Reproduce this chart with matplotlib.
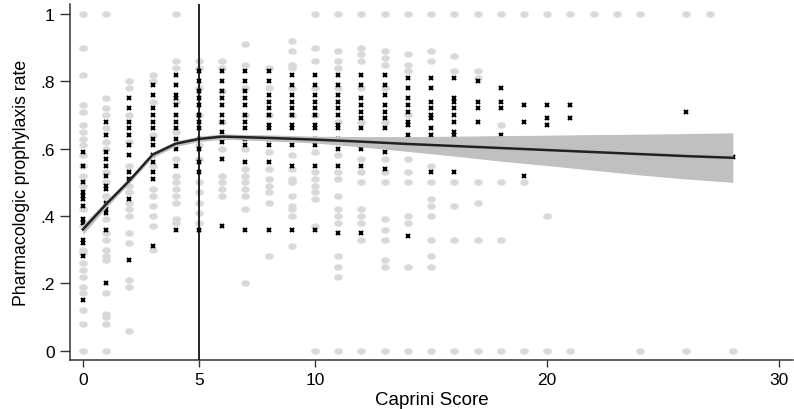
import numpy as np
import matplotlib
matplotlib.use("Agg")
import matplotlib.pyplot as plt
from matplotlib.path import Path
from matplotlib.transforms import Affine2D

plt.rcParams['font.family'] = ['Liberation Sans', 'DejaVu Sans']

# Caprini score columns 0..28
scores = list(range(29))

# light gray dots (per score)
gray_y = [
    [1.0, 0.90, 0.82, 0.73, 0.71, 0.67, 0.65, 0.63, 0.61, 0.58, 0.55, 0.52, 0.49, 0.42, 0.37, 0.30, 0.29, 0.26, 0.24, 0.22, 0.19, 0.17, 0.12, 0.08, 0.0],
    [1.0, 0.75, 0.72, 0.70, 0.66, 0.62, 0.60, 0.53, 0.50, 0.46, 0.39, 0.35, 0.33, 0.30, 0.28, 0.27, 0.17, 0.11, 0.10, 0.08, 0.0],
    [0.80, 0.78, 0.70, 0.62, 0.55, 0.49, 0.47, 0.44, 0.42, 0.40, 0.35, 0.32, 0.21, 0.19, 0.06],
    [0.82, 0.80, 0.74, 0.64, 0.55, 0.48, 0.46, 0.43, 0.40, 0.37, 0.30],
    [1.0, 0.86, 0.84, 0.74, 0.65, 0.57, 0.52, 0.50, 0.48, 0.46, 0.44, 0.39, 0.38],
    [0.86, 0.84, 0.78, 0.70, 0.61, 0.57, 0.50, 0.47, 0.44, 0.41, 0.38],
    [0.86, 0.84, 0.77, 0.68, 0.60, 0.52, 0.50, 0.48, 0.46],
    [0.91, 0.85, 0.78, 0.70, 0.60, 0.54, 0.52, 0.50, 0.48, 0.46, 0.42, 0.20],
    [0.84, 0.78, 0.70, 0.59, 0.54, 0.51, 0.49, 0.47, 0.44, 0.28],
    [0.92, 0.89, 0.85, 0.84, 0.78, 0.70, 0.58, 0.54, 0.51, 0.50, 0.46, 0.43, 0.42, 0.40, 0.31],
    [1.0, 0.90, 0.86, 0.78, 0.70, 0.59, 0.53, 0.51, 0.49, 0.47, 0.45, 0.37, 0.0],
    [1.0, 0.89, 0.86, 0.84, 0.78, 0.68, 0.58, 0.53, 0.51, 0.46, 0.42, 0.40, 0.38, 0.28, 0.25, 0.22, 0.0],
    [1.0, 0.90, 0.88, 0.86, 0.78, 0.68, 0.57, 0.53, 0.50, 0.42, 0.40, 0.38, 0.33, 0.0],
    [1.0, 0.89, 0.87, 0.85, 0.78, 0.68, 0.57, 0.53, 0.50, 0.39, 0.36, 0.33, 0.27, 0.25, 0.0],
    [1.0, 0.88, 0.85, 0.83, 0.70, 0.62, 0.57, 0.53, 0.50, 0.40, 0.38, 0.25, 0.0],
    [1.0, 0.89, 0.86, 0.60, 0.55, 0.50, 0.45, 0.43, 0.40, 0.33, 0.28, 0.25, 0.0],
    [1.0, 0.875, 0.83, 0.62, 0.50, 0.43, 0.33, 0.0],
    [1.0, 0.83, 0.81, 0.50, 0.44, 0.33, 0.0],
    [1.0, 0.67, 0.50, 0.33, 0.0],
    [1.0, 0.50, 0.0],
    [1.0, 0.40, 0.0],
    [1.0, 0.0],
    [1.0],
    [1.0],
    [1.0, 0.0],
    [],
    [1.0, 0.0],
    [1.0],
    [0.0],
]

# black x markers (per score)
cross_y = [
    [0.59, 0.55, 0.50, 0.47, 0.46, 0.45, 0.43, 0.39, 0.38, 0.33, 0.32, 0.28, 0.15],
    [0.68, 0.64, 0.59, 0.57, 0.55, 0.52, 0.49, 0.48, 0.44, 0.42, 0.41, 0.36, 0.20],
    [0.75, 0.72, 0.68, 0.66, 0.64, 0.61, 0.58, 0.53, 0.51, 0.45, 0.27],
    [0.79, 0.76, 0.72, 0.70, 0.68, 0.66, 0.63, 0.61, 0.58, 0.56, 0.53, 0.51, 0.31],
    [0.82, 0.79, 0.76, 0.75, 0.73, 0.70, 0.68, 0.66, 0.63, 0.60, 0.55, 0.36],
    [0.83, 0.80, 0.77, 0.75, 0.73, 0.70, 0.68, 0.66, 0.63, 0.60, 0.56, 0.53, 0.36],
    [0.83, 0.80, 0.77, 0.75, 0.73, 0.70, 0.68, 0.65, 0.62, 0.57, 0.37],
    [0.83, 0.80, 0.77, 0.75, 0.73, 0.70, 0.68, 0.66, 0.63, 0.61, 0.56, 0.36],
    [0.83, 0.80, 0.76, 0.74, 0.72, 0.70, 0.67, 0.66, 0.63, 0.61, 0.56, 0.36],
    [0.82, 0.79, 0.76, 0.74, 0.72, 0.70, 0.67, 0.66, 0.61, 0.55, 0.36],
    [0.82, 0.79, 0.76, 0.74, 0.72, 0.70, 0.67, 0.66, 0.63, 0.61, 0.55, 0.36],
    [0.82, 0.79, 0.76, 0.74, 0.72, 0.70, 0.67, 0.66, 0.63, 0.60, 0.55, 0.35],
    [0.82, 0.79, 0.75, 0.73, 0.71, 0.69, 0.66, 0.60, 0.55, 0.35],
    [0.82, 0.79, 0.76, 0.73, 0.71, 0.69, 0.66, 0.59, 0.54],
    [0.81, 0.78, 0.75, 0.73, 0.71, 0.68, 0.67, 0.64, 0.34],
    [0.81, 0.78, 0.74, 0.72, 0.70, 0.69, 0.66, 0.64, 0.53],
    [0.81, 0.75, 0.74, 0.72, 0.70, 0.68, 0.65, 0.64, 0.53],
    [0.80, 0.74, 0.72, 0.68],
    [0.78, 0.74, 0.72, 0.64],
    [0.73, 0.68, 0.52],
    [0.73, 0.69, 0.67],
    [0.73, 0.69],
    [], [], [], [],
    [0.71],
    [],
    [0.575],
]

# fitted curve with confidence band
fit_x = [0, 1, 2, 3, 4, 5, 6, 7, 8, 10, 12, 14, 16, 18, 20, 22, 24, 26, 28]
fit_y = [0.36, 0.435, 0.505, 0.582, 0.615, 0.629, 0.636, 0.634, 0.632, 0.627, 0.621, 0.614, 0.608, 0.602, 0.596, 0.590, 0.584, 0.578, 0.573]
ci_lo = [0.345, 0.425, 0.497, 0.574, 0.607, 0.621, 0.628, 0.626, 0.623, 0.617, 0.605, 0.592, 0.578, 0.563, 0.550, 0.536, 0.522, 0.510, 0.500]
ci_hi = [0.375, 0.445, 0.513, 0.590, 0.623, 0.637, 0.644, 0.642, 0.641, 0.637, 0.636, 0.636, 0.637, 0.639, 0.640, 0.642, 0.643, 0.645, 0.647]

fig = plt.figure(figsize=(7.94, 4.10), dpi=100)
ax = fig.add_axes([0.088, 0.12, 0.911, 0.868])

# the reference looks stretched sideways, so the dots are wide ovals
oval = Path.unit_circle().transformed(Affine2D().scale(1.0, 0.75))

gx, gy, cx, cy = [], [], [], []
for s in scores:
    gx += [s] * len(gray_y[s])
    gy += gray_y[s]
    cx += [s] * len(cross_y[s])
    cy += cross_y[s]

ax.plot(gx, gy, linestyle='none', marker=oval, ms=6.2, color='#d9d9d9', mec='none', zorder=1)
ax.plot(cx, cy, linestyle='none', marker='x', ms=3.4, mew=1.5, color='black', zorder=2)

ax.fill_between(fit_x, ci_lo, ci_hi, color='#c0c0c0', lw=0, zorder=3)
ax.plot(fit_x, fit_y, color='#222222', lw=1.8, zorder=4)

ax.axvline(5, color='black', lw=1.2, zorder=5)

ax.set_xlim(-0.56, 30.6)
ax.set_ylim(-0.027, 1.03)
ax.set_xticks([0, 5, 10, 20, 30])
ax.set_yticks([0, 0.2, 0.4, 0.6, 0.8, 1.0])
ax.set_yticklabels(['0', '.2', '.4', '.6', '.8', '1'])
ax.tick_params(axis='x', labelsize=12.5, length=5, width=1, color='#333333', pad=4)
ax.tick_params(axis='y', labelsize=12.5, length=7, width=1, color='#333333', pad=4)
ax.set_xlabel('Caprini Score', fontsize=13.5, labelpad=3)
ax.set_ylabel('Pharmacologic prophylaxis rate', fontsize=12.7, labelpad=7)

for sp in ['top', 'right']:
    ax.spines[sp].set_visible(False)
for sp in ['left', 'bottom']:
    ax.spines[sp].set_linewidth(1.1)
    ax.spines[sp].set_color('#333333')

fig.savefig('out.png', dpi=100)
